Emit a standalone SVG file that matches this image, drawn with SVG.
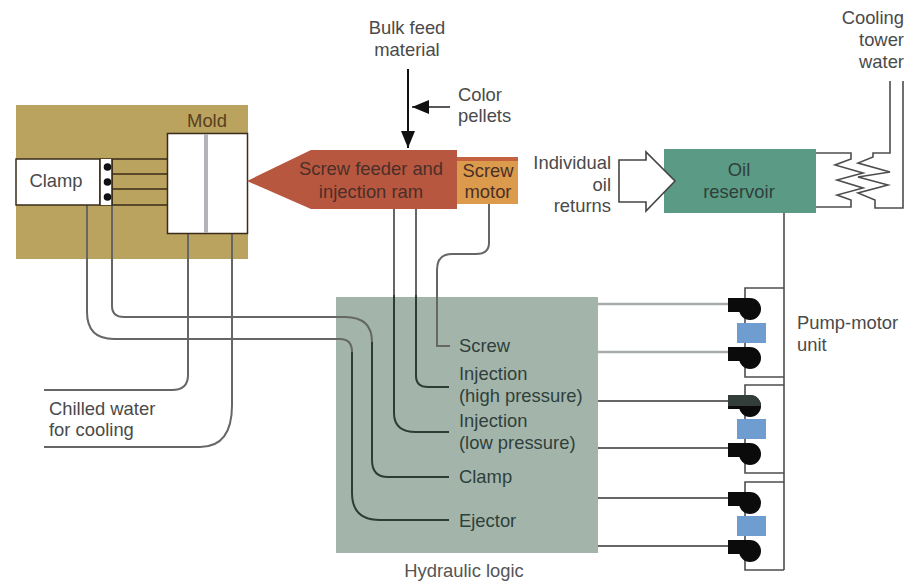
<svg xmlns="http://www.w3.org/2000/svg" width="914" height="581" viewBox="0 0 914 581">
<style>
text{font-family:"Liberation Sans",Arial,sans-serif;font-size:18.4px;fill:#4a4a4a}
.m{text-anchor:middle}.e{text-anchor:end}
.d{fill:#4a2f28}.h{fill:#2f3f3a}
.w{fill:none;stroke:#666;stroke-width:2}
.g{fill:none;stroke:#2f3c36;stroke-width:2}
.k{fill:none;stroke:#3a2c1a;stroke-width:1.6}
.p{fill:none;stroke:#4d4d4d;stroke-width:1.6}
.blue{fill:#6f9dcf}
</style>
<defs>
<marker id="ah" markerUnits="userSpaceOnUse" markerWidth="18" markerHeight="14" refX="17" refY="7" orient="auto"><path d="M0 0L17 7L0 14Z" fill="#111"/></marker>
<g id="pump"><rect x="-22" y="-10" width="22" height="14" fill="#0b0b0b"/><circle cx="0" cy="1" r="11" fill="#0b0b0b"/></g>
</defs>
<rect width="914" height="581" fill="#fff"/>
<g id="tan-block"><rect x="16" y="105" width="232" height="154" fill="#b9a35f"/></g>
<g id="hydraulic-logic"><rect x="336" y="297" width="262" height="256" fill="#a3b5ab"/></g>
<g id="connectors">
<path class="w" d="M87 205V312Q87 339 114 339H340Q352 339 352 352"/>
<path class="w" d="M112 205V306Q112 317 124 317H345Q372 317 372 342"/>
<path class="w" d="M188 233V375Q188 390 172 390H44"/>
<path class="w" d="M232 233V405Q232 447 200 447H44"/>
<path class="g" d="M352 352V493Q352 520 380 520H449"/>
<path class="g" d="M372 342V460Q372 477 388 477H449"/>
<path class="w" d="M394 209V295"/><path class="g" d="M394 295V413Q394 432 416 432H449"/>
<path class="w" d="M416 209V295"/><path class="g" d="M416 295V376Q416 387 428 387H449"/>
<path class="w" d="M489 204V243Q489 254 476 254H452Q437 254 437 270V346H450"/>
<path d="M408 69V148" fill="none" stroke="#111" stroke-width="2" marker-end="url(#ah)"/>
<path d="M450 107H412" fill="none" stroke="#222" stroke-width="1.6" marker-end="url(#ah)"/>
<g stroke-width="2.5" stroke="#a7aea9" fill="none"><path d="M598 304H728"/><path d="M598 352H728"/></g>
<g stroke-width="1.6" stroke="#333" fill="none"><path d="M598 401H728"/><path d="M598 448H728"/><path d="M598 498H728"/><path d="M598 546H728"/></g>
<path class="p" d="M784 213V570"/>
</g>
<g id="clamp">
<path class="k" d="M100 159H167M112 174H167M112 189H167M100 205H167M112 159V205"/>
<rect x="16" y="159" width="84" height="46" fill="#fff" stroke="#3a2c1a" stroke-width="1.5"/>
<rect x="100" y="159" width="12" height="46" fill="#fff"/>
<path class="k" d="M100 159V205M112 159V205" stroke-width="1"/>
<circle cx="107.500" cy="167" r="3.800" fill="#111"/><circle cx="107.500" cy="182" r="3.800" fill="#111"/><circle cx="107.500" cy="197" r="3.800" fill="#111"/>
<text x="56" y="187" class="m">Clamp</text>
</g>
<g id="mold">
<rect x="167.500" y="133.500" width="80" height="100" fill="#fff" stroke="#3a2c1a" stroke-width="1.5"/>
<path d="M206 134V233" stroke="#b4b4b8" stroke-width="4" fill="none"/>
<text x="207" y="127" class="m" style="fill:#5a4020">Mold</text>
</g>
<g id="screw-motor">
<rect x="457" y="157" width="61" height="47" fill="#db9a4c"/>
<rect x="457" y="157" width="61" height="4" fill="#c4623f"/>
<text x="488" y="177" class="m d">Screw</text><text x="488" y="198" class="m d">motor</text>
</g>
<g id="screw-feeder">
<path d="M247 181L311 150H457V209H311Z" fill="#b8573f"/>
<text x="371" y="175" class="m d">Screw feeder and</text><text x="371" y="198" class="m d">injection ram</text>
</g>
<g id="bulk-feed"><text x="407" y="34" class="m">Bulk feed</text><text x="407" y="56" class="m">material</text></g>
<g id="color-pellets"><text x="458" y="101">Color</text><text x="458" y="122">pellets</text></g>
<g id="oil-reservoir">
<rect x="664" y="149" width="152" height="64" fill="#5b9b85"/>
<text x="739" y="176" class="m h">Oil</text><text x="739" y="198" class="m h">reservoir</text>
</g>
<g id="oil-returns">
<path d="M619 160H646V152L675 181L646 211V202H619Z" fill="#fff" stroke="#444" stroke-width="1.600"/>
<text x="611" y="169" class="e">Individual</text><text x="611" y="191" class="e">oil</text><text x="611" y="212" class="e">returns</text>
</g>
<g id="heat-exchanger">
<path class="p" d="M816 153H851V159L835 165L863 173L837 180L863 188L837 195L851 200V207H816"/>
<path class="p" d="M890 81V153H873V157L858 163L890 172L858 177L888 185L858 193L875 200V208H903V81"/>
</g>
<g id="cooling-tower"><text x="904" y="24" class="e">Cooling</text><text x="904" y="46" class="e">tower</text><text x="904" y="68" class="e">water</text></g>
<g id="pump-unit-1">
<path class="p" d="M784 288H745V377H784"/>
<use href="#pump" x="750" y="308"/><rect class="blue" x="737" y="323" width="29" height="20"/><use href="#pump" x="750" y="357"/>
</g>
<g id="pump-unit-2">
<path class="p" d="M784 385H745V473H784"/>
<use href="#pump" x="750" y="405"/><path d="M728 395H750A11 11 0 0 1 761 406H728Z" fill="#333d3a"/><rect class="blue" x="737" y="419" width="29" height="20"/><use href="#pump" x="750" y="453"/>
</g>
<g id="pump-unit-3">
<path class="p" d="M784 482H745V570H784"/>
<use href="#pump" x="750" y="502"/><rect class="blue" x="737" y="516" width="29" height="20"/><use href="#pump" x="750" y="550"/>
</g>
<g id="pump-label"><text x="797" y="329">Pump-motor</text><text x="797" y="351">unit</text></g>
<g id="chilled-water"><text x="49" y="415">Chilled water</text><text x="49" y="436">for cooling</text></g>
<g id="logic-labels">
<text x="459" y="352" class="h">Screw</text>
<text x="459" y="380" class="h">Injection</text><text x="459" y="402" class="h">(high pressure)</text>
<text x="459" y="427" class="h">Injection</text><text x="459" y="449" class="h">(low pressure)</text>
<text x="459" y="483" class="h">Clamp</text>
<text x="459" y="527" class="h">Ejector</text>
<text x="464" y="577" class="m" style="fill:#555">Hydraulic logic</text>
</g>
</svg>
